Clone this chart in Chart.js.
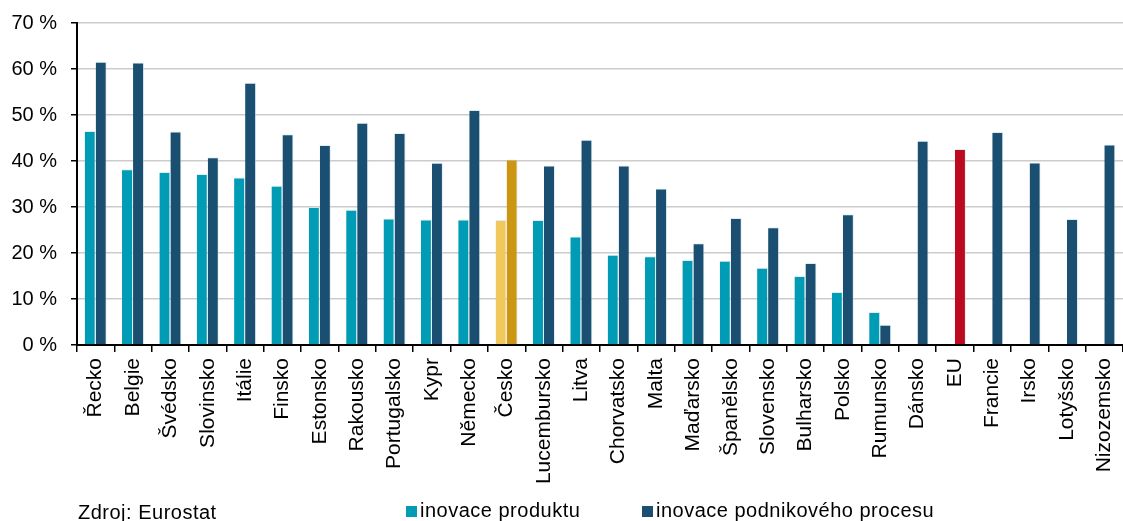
<!DOCTYPE html>
<html>
<head>
<meta charset="utf-8">
<script src="https://cdn.jsdelivr.net/npm/chart.js@4/dist/chart.umd.min.js"></script>
<style>
  html, body { margin: 0; padding: 0; background: #fff; }
  #wrap { position: relative; width: 1123px; height: 521px; overflow: hidden; font-family: "Liberation Sans", Arial, sans-serif; }
  canvas { position: absolute; left: 0; top: 0; }
  .txt { position: absolute; font-size: 20px; line-height: 20px; color: #000; white-space: nowrap; letter-spacing: 0.5px; }
  .sq { position: absolute; width: 11px; height: 11px; }
</style>
</head>
<body>
<div id="wrap">
  <canvas id="c" width="1123" height="521"></canvas>
  <div class="txt" style="left:78px; top:502px;">Zdroj: Eurostat</div>
  <div class="sq" style="left:406px; top:506px; background:#009BB4;"></div>
  <div class="txt" style="left:420px; top:500px;">inovace produktu</div>
  <div class="sq" style="left:642px; top:506px; background:#1A4F71;"></div>
  <div class="txt" style="left:656px; top:500px;">inovace podnikového procesu</div>
</div>
<script>
const categories = ["Řecko","Belgie","Švédsko","Slovinsko","Itálie","Finsko","Estonsko","Rakousko","Portugalsko","Kypr","Německo","Česko","Lucembursko","Litva","Chorvatsko","Malta","Maďarsko","Španělsko","Slovensko","Bulharsko","Polsko","Rumunsko","Dánsko","EU","Francie","Irsko","Lotyšsko","Nizozemsko"];
const productInnovation = [46.5,38.2,37.6,37.2,36.4,34.6,30.0,29.4,27.5,27.3,27.3,27.2,27.2,23.6,19.6,19.3,18.5,18.3,16.8,15.0,11.5,7.2,null,null,null,null,null,null];
const processInnovation = [61.6,61.4,46.4,40.8,57.0,45.8,43.5,48.3,46.1,39.6,51.1,40.3,39.0,44.6,39.0,34.0,22.1,27.6,25.6,17.8,28.4,4.4,44.4,42.6,46.3,39.7,27.4,43.6];
const yTicks = [0,10,20,30,40,50,60,70];
const seriesNames = ["inovace produktu","inovace podnikového procesu"];

const C_PROD = "#009BB4", C_PROC = "#1A4F71";
const C_CZ_PROD = "#F2C75C", C_CZ_PROC = "#CC9612", C_EU = "#BE0A1E";

const prodColors = categories.map(c => c === "Česko" ? C_CZ_PROD : C_PROD);
const procColors = categories.map(c => c === "Česko" ? C_CZ_PROC : (c === "EU" ? C_EU : C_PROC));

const FONT = '"Liberation Sans", Arial, sans-serif';

new Chart(document.getElementById("c"), {
  type: "bar",
  data: {
    labels: categories,
    datasets: [
      { label: seriesNames[0], data: productInnovation, backgroundColor: prodColors,
        borderColor: "rgba(200,225,235,0.6)", borderWidth: {top:1, right:1, left:0, bottom:0},
        categoryPercentage: 0.59, barPercentage: 1.0 },
      { label: seriesNames[1], data: processInnovation, backgroundColor: procColors,
        borderColor: "rgba(200,225,235,0.6)", borderWidth: {top:1, right:1, left:0, bottom:0},
        categoryPercentage: 0.59, barPercentage: 1.0 }
    ]
  },
  options: {
    responsive: false,
    animation: false,
    layout: { padding: { top: 23, right: 0, left: 0, bottom: 0 } },
    plugins: { legend: { display: false }, tooltip: { enabled: false } },
    scales: {
      x: {
        afterFit: s => { s.height = 176; s.paddingRight = 0; s.paddingLeft = 0; },
        grid: { display: true, drawOnChartArea: false, offset: true, color: "#000", lineWidth: 1.5, tickLength: 7 },
        border: { display: true, color: "#000", width: 2 },
        ticks: { autoSkip: false, maxRotation: 90, minRotation: 90, padding: 6, color: "#000",
                 font: { family: FONT, size: 21 } }
      },
      y: {
        min: 0, max: 70,
        afterFit: s => { s.width = 77; s.paddingTop = 0; },
        afterBuildTicks: s => { s.ticks = yTicks.map(v => ({ value: v })); },
        grid: { color: "#cccccc", lineWidth: 1.5, tickColor: "#000", tickLength: 6, drawTicks: true },
        border: { display: true, color: "#000", width: 2 },
        ticks: { padding: 14, color: "#000", font: { family: FONT, size: 20 },
                 callback: v => v + " %" }
      }
    }
  }
});
</script>
</body>
</html>
